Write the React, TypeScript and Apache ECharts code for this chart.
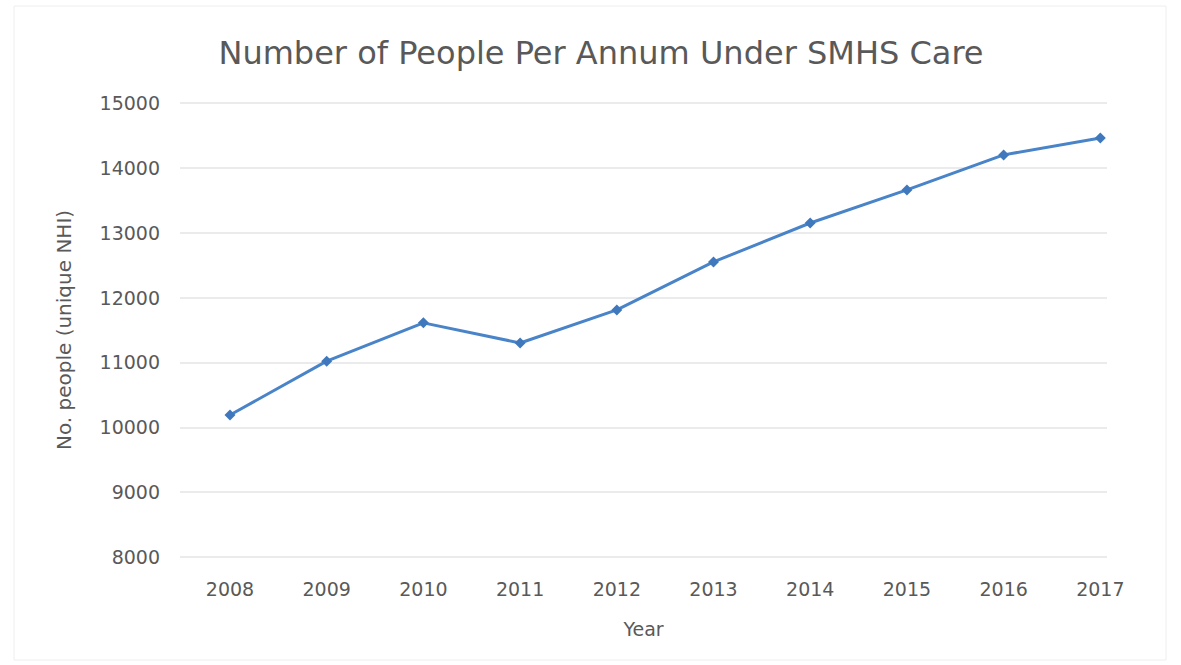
import React, { useEffect, useRef } from "react";
import * as echarts from "echarts";

const years = [2008, 2009, 2010, 2011, 2012, 2013, 2014, 2015, 2016, 2017];
const people = [10190, 11020, 11610, 11300, 11810, 12550, 13150, 13660, 14200, 14460];
const yMin = 8000;
const yMax = 15000;
const yStep = 1000;

const FONT = "'DejaVu Sans', sans-serif";
const TEXT = "#595959";

export default function App() {
  const ref = useRef<HTMLDivElement>(null);
  useEffect(() => {
    if (!ref.current) return;
    const chart = echarts.init(ref.current, null, { renderer: "svg" });
    const data = years.map((y, i) => [y, people[i]]);
    chart.setOption({
      animation: false,
      backgroundColor: "#ffffff",
      title: {
        text: "Number of People Per Annum Under SMHS Care",
        left: 596,
        top: 32,
        textAlign: "center",
        textStyle: { fontFamily: FONT, fontSize: 32, fontWeight: "normal", color: TEXT },
      },
      graphic: [
        {
          type: "rect",
          shape: { x: 14, y: 6, width: 1152, height: 654 },
          style: { fill: "none", stroke: "#eeeeee", lineWidth: 1 },
          silent: true,
        },
      ],
      grid: { left: 180, right: 74, top: 103, bottom: 108, containLabel: false },
      xAxis: {
        type: "value",
        min: 2007.483,
        max: 2017.069,
        name: "Year",
        nameLocation: "middle",
        nameGap: 62,
        nameTextStyle: { fontFamily: FONT, fontSize: 19, color: TEXT },
        axisLine: { show: false },
        axisTick: { show: false },
        splitLine: { show: false },
        axisLabel: {
          customValues: years,
          formatter: (v: number) => String(Math.round(v)),
          fontFamily: FONT,
          fontSize: 19,
          color: TEXT,
          margin: 22,
        },
      },
      yAxis: {
        type: "value",
        min: yMin,
        max: yMax,
        interval: yStep,
        name: "No. people (unique NHI)",
        nameLocation: "middle",
        nameGap: 106,
        nameTextStyle: { fontFamily: FONT, fontSize: 20, color: TEXT },
        axisLine: { show: false },
        axisTick: { show: false },
        axisLabel: {
          formatter: (v: number) => String(v),
          fontFamily: FONT,
          fontSize: 19,
          color: TEXT,
          margin: 20,
        },
        splitLine: { lineStyle: { color: "#e4e4e4", width: 1.5 } },
      },
      series: [
        {
          type: "line",
          data,
          symbol: "diamond",
          symbolSize: 11,
          lineStyle: { color: "#4a84c8", width: 3 },
          itemStyle: { color: "#3f78bd" },
        },
      ],
    });
    return () => chart.dispose();
  }, []);
  return (
    <div
      ref={ref}
      style={{ position: "fixed", left: 0, top: 0, width: 1181, height: 665 }}
    />
  );
}
